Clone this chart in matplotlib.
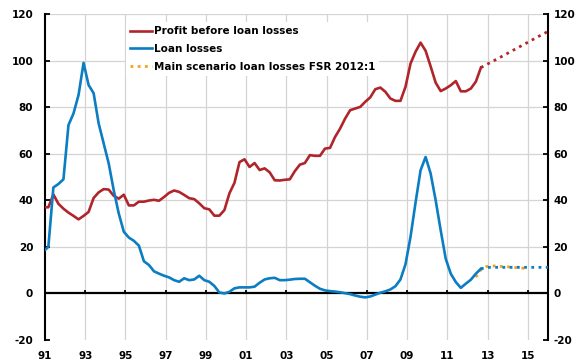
import numpy as np
import matplotlib
matplotlib.use("Agg")
import matplotlib.pyplot as plt

# ---- data (quarterly, plotted at end-of-quarter month positions) ----
start_year = 1990 + 11 / 12  # first observation (Dec 1990), clipped by axis
profit = [37, 37, 42.5, 38.5, 36.4, 34.7, 33.3, 31.8, 33.3, 35, 41, 43.4, 44.8, 44.6,
          41.9, 40.7, 42.4, 37.8, 37.8, 39.4, 39.4, 39.9, 40.2, 39.8, 41.4, 43.2, 44.2,
          43.6, 42.3, 40.9, 40.5, 38.7, 36.6, 36.1, 33.4, 33.4, 35.8, 43, 47.5, 56.4,
          57.6, 54.3, 56, 53, 53.7, 52, 48.6, 48.5, 48.8, 49, 52.5, 55.3, 56, 59.4,
          59.1, 59.1, 62.2, 62.5, 67.2, 70.8, 75.1, 78.7, 79.4, 80.1, 82.3, 84.2, 87.7,
          88.4, 86.6, 83.7, 82.7, 82.7, 88.7, 98.7, 103.8, 107.7, 104.2, 97.5, 90.5,
          86.9, 88, 89.4, 91.2, 86.8, 86.8, 88, 91, 97]
loan_losses = [18, 20, 45.5, 47, 49, 72.3, 77.3, 85.2, 99, 89.5, 86, 73, 64.4, 55.8,
               44.3, 34.3, 26.5, 24, 22.6, 20.5, 13.8, 12.2, 9.5, 8.5, 7.6, 6.9, 5.7,
               5, 6.5, 5.7, 6, 7.6, 5.7, 5, 3.2, 0.4, 0, 0.7, 2.2, 2.6, 2.6, 2.6, 2.9,
               4.6, 6, 6.5, 6.7, 5.7, 5.7, 5.9, 6.2, 6.3, 6.3, 4.8, 3.3, 2.0, 1.3, 1.0,
               0.8, 0.5, 0.1, -0.3, -0.9, -1.4, -1.7, -1.3, -0.5, 0.3, 0.9, 1.7, 3.1,
               6.0, 12.5, 24.3, 39, 52.9, 58.6, 51.5, 40, 27.1, 14.9, 8.5, 4.9, 2.4,
               4.2, 5.9, 8.5, 10.6]

# forecasts
profit_fc_years = [2012.667, 2013.667, 2014.667, 2015.667, 2016.0]
profit_fc = [97, 101.6, 106.3, 111.0, 112.5]
loss_fc_years = [2012.667, 2013.0, 2014.0, 2015.0, 2016.0]
loss_fc = [10.6, 11.2, 11.2, 11.2, 11.2]
fsr_years = [2012.417, 2012.667, 2012.917, 2013.167, 2013.417, 2013.667, 2013.917,
             2014.167, 2014.417, 2014.667, 2014.917]
fsr_values = [7.0, 10.2, 11.5, 11.8, 11.8, 11.6, 11.5, 11.3, 11.1, 10.8, 10.9]

xtick_years = list(range(1991, 2016, 2))
xtick_labels = ["91", "93", "95", "97", "99", "01", "03", "05", "07", "09", "11", "13", "15"]
yticks = [-20, 0, 20, 40, 60, 80, 100, 120]

labels = ["Profit before loan losses", "Loan losses", "Main scenario loan losses FSR 2012:1"]

RED = "#B0252B"
BLUE = "#0B7DC3"
ORANGE = "#F7A21B"

plt.rcParams["font.family"] = ["DejaVu Sans"]
plt.rcParams["font.weight"] = "bold"
plt.rcParams["font.size"] = 7.5

t = start_year + 0.25 * np.arange(len(profit))

fig = plt.figure(figsize=(5.83, 3.6), dpi=100)
ax = fig.add_axes([45 / 583, 20 / 360, 503 / 583, 326 / 360])
ax.set_xlim(1991, 2016)
ax.set_ylim(-20, 120)

# grid
for x in xtick_years[1:]:
    ax.axvline(x, color="#d4d4d4", lw=0.9, zorder=0)
for y in yticks[2:]:
    ax.axhline(y, color="#d4d4d4", lw=0.9, zorder=0)

ax.axhline(0, color="black", lw=1.6, zorder=2)
ax.vlines(xtick_years, 0, 1.4, color="black", lw=1.3, zorder=2)

ax.plot(fsr_years, fsr_values, color=ORANGE, lw=2.0, ls=(0, (1, 1.6)), zorder=3, label=labels[2])
ax.plot(t, profit, color=RED, lw=1.9, zorder=4, label=labels[0], solid_joinstyle="round")
ax.plot(profit_fc_years, profit_fc, color=RED, lw=2.0, ls=(0, (1, 1.6)), zorder=4)
ax.plot(t, loan_losses, color=BLUE, lw=1.9, zorder=5, label=labels[1], solid_joinstyle="round")
ax.plot(loss_fc_years, loss_fc, color=BLUE, lw=2.0, ls=(0, (1, 1.6)), zorder=5)

for s in ["top", "bottom"]:
    ax.spines[s].set_visible(False)
for s in ["left", "right"]:
    ax.spines[s].set_linewidth(1.5)

ax.set_yticks(yticks)
ax.set_yticklabels([str(v) for v in yticks])
ax.tick_params(axis="y", direction="in", length=3.5, width=1.3, left=True, right=True,
               labelleft=True, labelright=True)
ax.tick_params(axis="y", which="major", pad=8.5)
for lab in ax.get_yticklabels():
    lab.set_fontweight("bold")
ax.yaxis.set_tick_params(which="major")
# right side labels closer
for tk in ax.yaxis.get_major_ticks():
    tk.set_pad(8.5)
    tk.label2.set_x(1.0)
ax.tick_params(axis="y", labelright=True)
ax.set_xticks(xtick_years)
ax.set_xticklabels(xtick_labels)
ax.tick_params(axis="x", length=0, pad=8)

# right tick pad tweak via transform offset
import matplotlib.transforms as mtransforms
off = mtransforms.ScaledTranslation(-4.5 / 72, 0, fig.dpi_scale_trans)
for lab in ax.get_yticklabels(which="major"):
    pass
for tk in ax.yaxis.get_major_ticks():
    tk.label2.set_transform(tk.label2.get_transform() + off)

handles, labs = ax.get_legend_handles_labels()
order = [labs.index(l) for l in labels]
leg = ax.legend([handles[i] for i in order], [labs[i] for i in order],
                loc="upper left", bbox_to_anchor=(0.161, 0.975), borderaxespad=0,
                frameon=True, fancybox=False, edgecolor="none", facecolor="white",
                framealpha=1, handlelength=2.1, handletextpad=0.15, labelspacing=0.75,
                borderpad=0.4, prop={"weight": "bold", "size": 7.5})

fig.savefig("out.png", dpi=100)
